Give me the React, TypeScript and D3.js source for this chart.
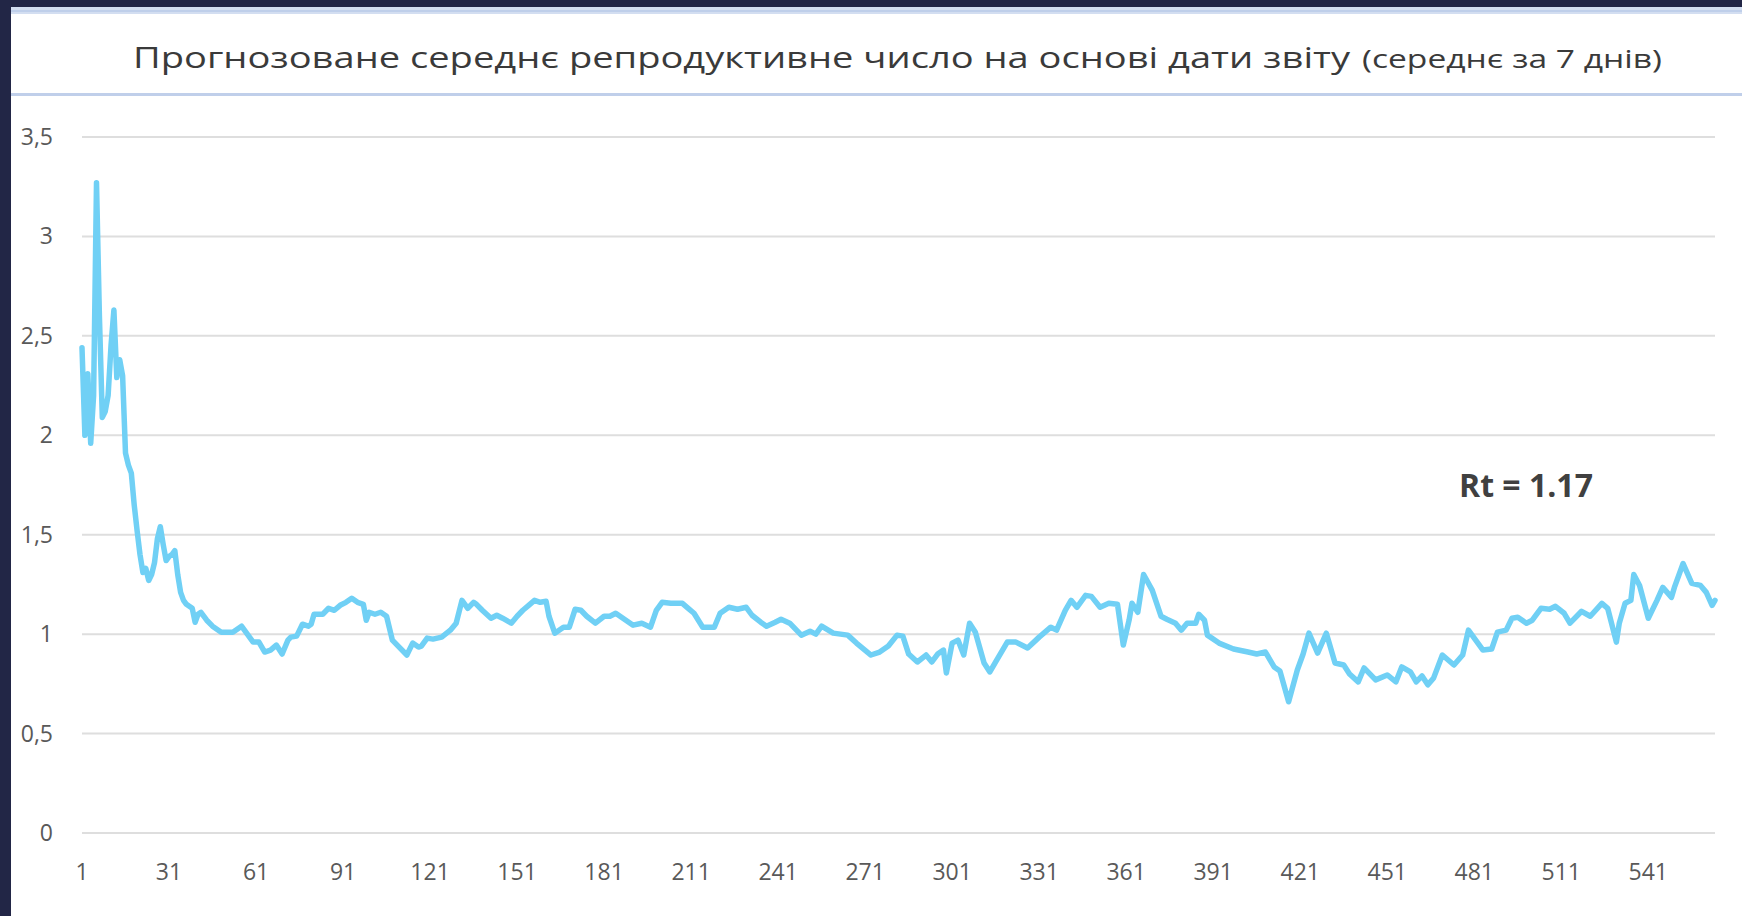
import React, { useEffect, useRef } from 'react';
import * as d3 from 'd3';

const titleMain = 'Прогнозоване середнє репродуктивне число на основі дати звіту';
const titleNote = '(середнє за 7 днів)';
const rtLabel = 'Rt = 1.17';

// day number of each reading
const days = [
  1, 2, 3, 4, 5, 6, 7, 8, 9, 10, 11, 12, 13, 14, 15, 16, 17, 18, 19, 20,
  21, 22, 23, 24, 25, 26, 27, 28, 29, 30, 31, 32, 33, 34, 35, 36, 37, 38, 39, 40,
  41, 42, 44, 46, 49, 53, 56, 58, 60, 62, 64, 66, 68, 70, 72, 73, 75, 77, 79, 80,
  81, 84, 86, 88, 90, 92, 94, 96, 98, 99, 100, 102, 104, 106, 108, 110, 113, 115, 117, 118,
  120, 122, 125, 128, 130, 132, 134, 136, 137, 139, 142, 144, 146, 149, 151, 153, 155, 157, 159, 161,
  162, 164, 167, 169, 171, 173, 175, 178, 181, 183, 185, 188, 191, 194, 197, 199, 201, 204, 208, 210,
  212, 215, 219, 221, 224, 227, 230, 232, 235, 237, 240, 242, 245, 249, 252, 254, 256, 260, 265, 268,
  273, 276, 279, 282, 284, 286, 289, 292, 294, 296, 298, 299, 301, 303, 305, 307, 309, 312, 314, 316,
  320, 323, 327, 331, 335, 337, 340, 342, 344, 347, 349, 352, 355, 358, 360, 362, 363, 365, 367, 370,
  373, 375, 378, 380, 382, 385, 386, 388, 389, 393, 398, 403, 406, 409, 412, 414, 417, 420, 422, 424,
  427, 430, 433, 436, 438, 441, 443, 447, 451, 454, 456, 459, 461, 463, 465, 467, 470, 474, 477, 479,
  481, 484, 487, 489, 492, 494, 496, 499, 501, 504, 507, 509, 512, 514, 518, 521, 525, 527, 530, 531,
  533, 535, 536, 538, 541, 544, 546, 549, 550, 553, 556, 559, 561, 563, 564,
];

// Rt value (7-day average) for each day above
const rt = [
  2.44, 2.0, 2.31, 1.96, 2.2, 3.27, 2.6, 2.09, 2.12, 2.2, 2.45, 2.63, 2.29, 2.38, 2.3, 1.91, 1.85, 1.81, 1.65, 1.52,
  1.4, 1.31, 1.33, 1.27, 1.3, 1.36, 1.48, 1.54, 1.45, 1.37, 1.39, 1.4, 1.42, 1.3, 1.21, 1.17, 1.15, 1.14, 1.13, 1.06,
  1.1, 1.11, 1.07, 1.04, 1.01, 1.01, 1.04, 1.0, 0.96, 0.96, 0.91, 0.92, 0.945, 0.9, 0.97, 0.985, 0.99, 1.05, 1.04, 1.05,
  1.1, 1.1, 1.13, 1.12, 1.145, 1.16, 1.18, 1.16, 1.15, 1.07, 1.11, 1.1, 1.11, 1.09, 0.97, 0.94, 0.895, 0.955, 0.935, 0.94,
  0.98, 0.975, 0.985, 1.02, 1.055, 1.17, 1.13, 1.16, 1.15, 1.12, 1.08, 1.095, 1.08, 1.055, 1.09, 1.12, 1.145, 1.17, 1.16, 1.165,
  1.09, 1.005, 1.035, 1.035, 1.125, 1.12, 1.09, 1.055, 1.09, 1.09, 1.105, 1.075, 1.045, 1.055, 1.035, 1.12, 1.16, 1.155, 1.155, 1.13,
  1.105, 1.035, 1.035, 1.105, 1.135, 1.125, 1.135, 1.095, 1.06, 1.04, 1.06, 1.075, 1.055, 0.995, 1.015, 1.0, 1.04, 1.005, 0.995, 0.955,
  0.895, 0.91, 0.94, 0.995, 0.99, 0.9, 0.86, 0.895, 0.86, 0.9, 0.92, 0.805, 0.955, 0.97, 0.895, 1.055, 1.01, 0.855, 0.81, 0.86,
  0.96, 0.96, 0.93, 0.985, 1.035, 1.02, 1.12, 1.17, 1.135, 1.195, 1.19, 1.135, 1.155, 1.15, 0.945, 1.07, 1.155, 1.11, 1.3, 1.22,
  1.09, 1.075, 1.055, 1.02, 1.055, 1.055, 1.1, 1.07, 0.995, 0.955, 0.925, 0.91, 0.9, 0.91, 0.835, 0.815, 0.66, 0.82, 0.9, 1.005,
  0.905, 1.005, 0.855, 0.845, 0.8, 0.76, 0.83, 0.77, 0.795, 0.76, 0.835, 0.81, 0.76, 0.79, 0.745, 0.78, 0.895, 0.845, 0.895, 1.02,
  0.98, 0.92, 0.925, 1.01, 1.02, 1.08, 1.085, 1.055, 1.07, 1.13, 1.125, 1.14, 1.105, 1.055, 1.115, 1.09, 1.155, 1.13, 0.96, 1.055,
  1.155, 1.17, 1.3, 1.245, 1.08, 1.17, 1.235, 1.185, 1.235, 1.355, 1.255, 1.245, 1.21, 1.145, 1.17,
];

const yTicks = [0, 0.5, 1, 1.5, 2, 2.5, 3, 3.5];
const xTicks = [1, 31, 61, 91, 121, 151, 181, 211, 241, 271, 301, 331, 361, 391, 421, 451, 481, 511, 541];
const lastDay = 564;

const W = 1742;
const H = 916;

const RtChart = () => {
  const svgRef = useRef<SVGSVGElement | null>(null);

  useEffect(() => {
    if (!svgRef.current) return;
    const svg = d3.select(svgRef.current);
    svg.selectAll('*').remove();

    // dark frame + white card
    svg.append('rect').attr('width', W).attr('height', H).attr('fill', '#222646');
    svg.append('rect').attr('x', 11).attr('y', 7).attr('width', W - 11).attr('height', H - 7).attr('fill', '#ffffff');

    // title band lines
    svg.append('rect').attr('x', 11).attr('y', 7).attr('width', W - 11).attr('height', 7).attr('fill', '#d3def1');
    svg.append('rect').attr('x', 11).attr('y', 10).attr('width', W - 11).attr('height', 2).attr('fill', '#bfcfea');
    svg.append('rect').attr('x', 11).attr('y', 93).attr('width', W - 11).attr('height', 3).attr('fill', '#c0cfea');

    const font = '"Open Sans", "Noto Sans", sans-serif';

    // title: the original glyphs are wide, so stretch to the measured width
    svg.append('text')
      .attr('x', 133)
      .attr('y', 68)
      .attr('textLength', 1217)
      .attr('lengthAdjust', 'spacingAndGlyphs')
      .style('font-family', font)
      .style('font-size', '30px')
      .style('fill', '#3a3a3a')
      .text(titleMain);

    svg.append('text')
      .attr('x', 1362)
      .attr('y', 68)
      .attr('textLength', 300)
      .attr('lengthAdjust', 'spacingAndGlyphs')
      .style('font-family', font)
      .style('font-size', '25px')
      .style('fill', '#3a3a3a')
      .text(titleNote);

    // scales
    const x = d3.scaleLinear().domain([1, lastDay]).range([82, 1715]);
    const y = d3.scaleLinear().domain([0, 3.5]).range([833, 137]);

    // gridlines
    svg.append('g')
      .selectAll('line')
      .data(yTicks)
      .join('line')
      .attr('x1', x(1))
      .attr('x2', x(lastDay))
      .attr('y1', d => y(d))
      .attr('y2', d => y(d))
      .attr('stroke', '#dedede')
      .attr('stroke-width', 2);

    // y labels
    svg.append('g')
      .selectAll('text')
      .data(yTicks)
      .join('text')
      .attr('x', 53)
      .attr('y', d => y(d))
      .attr('dy', '0.35em')
      .attr('text-anchor', 'end')
      .style('font-family', font)
      .style('font-size', '23px')
      .style('fill', '#595959')
      .text(d => String(d).replace('.', ','));

    // x labels
    svg.append('g')
      .selectAll('text')
      .data(xTicks)
      .join('text')
      .attr('x', d => x(d))
      .attr('y', 880)
      .attr('text-anchor', 'middle')
      .style('font-family', font)
      .style('font-size', '23px')
      .style('fill', '#595959')
      .text(d => String(d));

    // Rt line
    const points = days.map((d, i) => ({ day: d, value: rt[i] }));
    const line = d3.line<{ day: number; value: number }>()
      .x(d => x(d.day))
      .y(d => y(d.value));

    svg.append('path')
      .datum(points)
      .attr('fill', 'none')
      .attr('stroke', '#70d0f5')
      .attr('stroke-width', 5.5)
      .attr('stroke-linejoin', 'round')
      .attr('stroke-linecap', 'round')
      .attr('d', line);

    // current Rt annotation
    svg.append('text')
      .attr('x', 1459)
      .attr('y', 497)
      .style('font-family', font)
      .style('font-size', '32px')
      .style('font-weight', 700)
      .style('fill', '#404040')
      .text(rtLabel);
  }, []);

  return (
    <div style={{ position: 'fixed', left: 0, top: 0 }}>
      <svg ref={svgRef} width={W} height={H} style={{ display: 'block' }} />
    </div>
  );
};

export default function App() {
  return <RtChart />;
}
